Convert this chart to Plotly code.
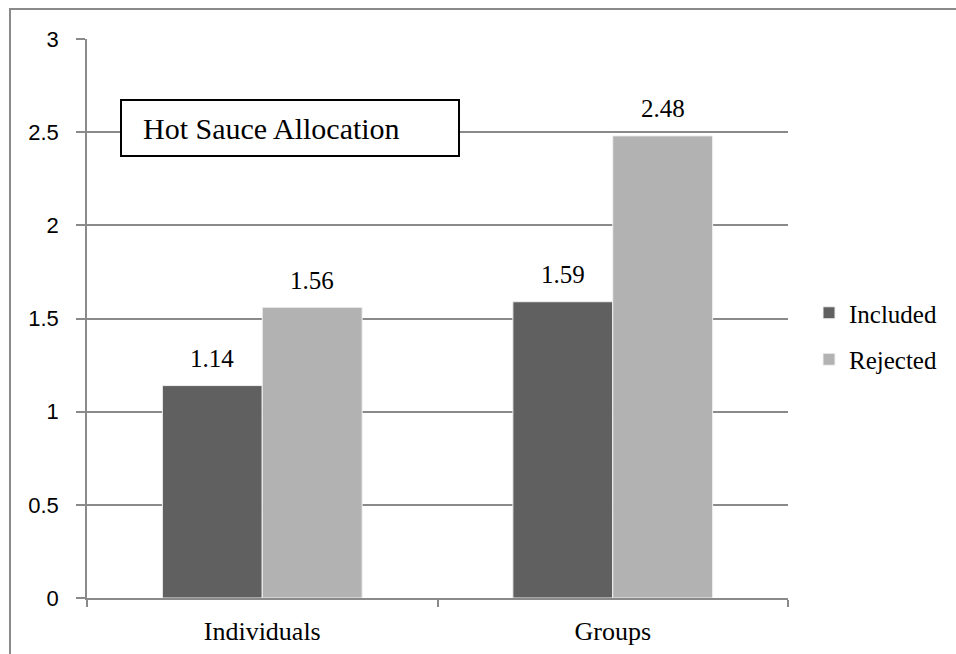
import plotly.graph_objects as go

# Mean hot sauce allocated, by unit and inclusion condition
categories = ["Individuals", "Groups"]
included = [1.14, 1.59]
rejected = [1.56, 2.48]
y_ticks = [0, 0.5, 1, 1.5, 2, 2.5, 3]
y_tick_labels = ["0", "0.5", "1", "1.5", "2", "2.5", "3"]

serif = "Liberation Serif"
sans = "Liberation Sans"
grid = "#8a8a8a"
bargap = 0.43

fig = go.Figure()
fig.add_trace(go.Bar(
    name="Included", x=categories, y=included,
    marker=dict(color="#606060", line=dict(color="#f0f0f0", width=1)),
    legendgroup="a",
))
fig.add_trace(go.Bar(
    name="Rejected", x=categories, y=rejected,
    marker=dict(color="#b2b2b2", line=dict(color="#f0f0f0", width=1)),
    legendgroup="b",
))

# value labels above each bar, placed at the bar centres
half = (1 - bargap) / 4
annotations = []
for i, cat in enumerate(categories):
    for offset, vals in ((-half, included), (half, rejected)):
        annotations.append(dict(
            x=i + offset, y=vals[i], xref="x", yref="y",
            text=f"{vals[i]:.2f}", showarrow=False,
            xanchor="center", yanchor="middle", yshift=27,
            font=dict(family=serif, size=25, color="#000"),
        ))

annotations.append(dict(
    text="Hot Sauce Allocation", xref="paper", yref="paper",
    x=(141 - 87) / 701, y=(598 - 128) / 559,
    xanchor="left", yanchor="middle", showarrow=False,
    font=dict(family=serif, size=30, color="#000"),
))

fig.update_layout(
    width=956, height=654,
    margin=dict(l=87, r=168, t=39, b=56),
    paper_bgcolor="white", plot_bgcolor="white",
    barmode="group", bargap=bargap, bargroupgap=0,
    showlegend=True,
    legend=dict(
        x=(809 - 87) / 701, y=(598 - 336) / 559,
        xanchor="left", yanchor="middle",
        font=dict(family=serif, size=25, color="#000"),
        tracegroupgap=11, traceorder="grouped",
    ),
    xaxis=dict(
        type="category", showgrid=False, showline=True,
        linecolor=grid, linewidth=1.5, automargin=False,
        ticks="outside", tickson="boundaries", ticklen=7,
        tickcolor=grid, tickwidth=1.5, ticklabelstandoff=9,
        tickfont=dict(family=serif, size=26, color="#000"),
    ),
    yaxis=dict(
        range=[0, 3], tickvals=y_ticks, ticktext=y_tick_labels,
        showgrid=True, gridcolor=grid, gridwidth=1.5,
        zeroline=False, showline=True, linecolor=grid, linewidth=1.5,
        ticks="outside", ticklen=9, tickcolor=grid, tickwidth=1.5,
        ticklabelstandoff=13, automargin=False,
        tickfont=dict(family=sans, size=22, color="#000"),
    ),
    shapes=[
        # outer chart frame
        dict(type="rect", xref="paper", yref="paper",
             x0=(10 - 87) / 701, x1=1.4, y0=-0.2, y1=(598 - 9) / 559,
             line=dict(color="#8a8a8a", width=2), layer="below"),
        # title box
        dict(type="rect", xref="paper", yref="paper",
             x0=(121 - 87) / 701, x1=(459 - 87) / 701,
             y0=(598 - 156) / 559, y1=(598 - 100) / 559,
             line=dict(color="#000", width=2), fillcolor="white",
             layer="above"),
    ],
    annotations=annotations,
)

fig.write_html("out.html")
